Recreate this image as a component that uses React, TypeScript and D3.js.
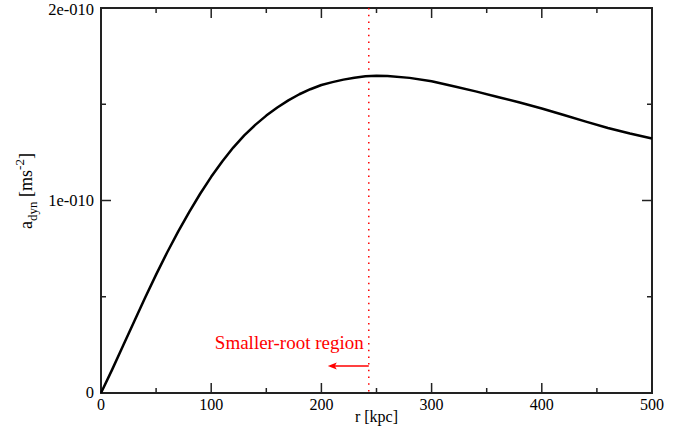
import React, { useRef, useEffect } from 'react';
import * as d3 from 'd3';

// radius [kpc] and dynamical acceleration [1e-10 m s^-2]
const radius = [0, 10, 20, 30, 40, 50, 60, 70, 80, 90, 100, 110, 120, 130, 140, 150, 160, 170, 180, 190, 200, 210, 220, 230, 240, 250, 260, 280, 300, 320, 340, 360, 380, 400, 420, 440, 460, 480, 500];
const accel = [0, 0.12, 0.245, 0.37, 0.495, 0.615, 0.73, 0.838, 0.94, 1.035, 1.123, 1.203, 1.275, 1.338, 1.393, 1.441, 1.483, 1.52, 1.552, 1.578, 1.6, 1.615, 1.628, 1.638, 1.645, 1.648, 1.647, 1.637, 1.619, 1.594, 1.567, 1.538, 1.509, 1.478, 1.444, 1.41, 1.377, 1.348, 1.322];
const rootRadius = 243;
const xMajor = [0, 100, 200, 300, 400, 500];
const xMinor = [50, 150, 250, 350, 450];
const yMajor = [0, 1e-10, 2e-10];
const yMajorLabels = ['0', '1e-010', '2e-010'];
const yMinor = [0.5e-10, 1.5e-10];

const W = 688;
const H = 440;
const font = '"Liberation Serif", "Times New Roman", Times, serif';

const App = () => {
    const svgRef = useRef<SVGSVGElement>(null);

    useEffect(() => {
        const svg = d3.select(svgRef.current);
        svg.selectAll('*').remove();

        const left = 101, right = 652, top = 8, bottom = 393;
        const x = d3.scaleLinear().domain([0, 500]).range([left, right]);
        const y = d3.scaleLinear().domain([0, 2e-10]).range([bottom, top]);

        const data = radius.map((r, i) => ({ r, a: accel[i] * 1e-10 }));

        // frame
        svg.append('rect')
            .attr('x', left).attr('y', top)
            .attr('width', right - left).attr('height', bottom - top)
            .attr('fill', 'none').attr('stroke', '#222').attr('stroke-width', 2);

        const tickG = svg.append('g').attr('stroke', '#222').attr('stroke-width', 1.5);
        const xTicks = (vals: number[], len: number) => {
            vals.forEach(v => {
                tickG.append('line').attr('x1', x(v)).attr('x2', x(v)).attr('y1', bottom).attr('y2', bottom - len);
                tickG.append('line').attr('x1', x(v)).attr('x2', x(v)).attr('y1', top).attr('y2', top + len);
            });
        };
        const yTicks = (vals: number[], len: number) => {
            vals.forEach(v => {
                tickG.append('line').attr('y1', y(v)).attr('y2', y(v)).attr('x1', left).attr('x2', left + len);
                tickG.append('line').attr('y1', y(v)).attr('y2', y(v)).attr('x1', right).attr('x2', right - len);
            });
        };
        xTicks(xMajor, 10);
        xTicks(xMinor, 5);
        yTicks(yMajor, 10);
        yTicks(yMinor, 5);

        // tick labels
        svg.append('g').selectAll('text')
            .data(xMajor)
            .join('text')
            .attr('x', d => x(d))
            .attr('y', bottom + 17)
            .attr('text-anchor', 'middle')
            .style('font-family', font)
            .style('font-size', '16px')
            .text(d => d);

        svg.append('g').selectAll('text')
            .data(yMajor)
            .join('text')
            .attr('x', left - 7)
            .attr('y', d => Math.max(y(d) + 5, 15))
            .attr('text-anchor', 'end')
            .style('font-family', font)
            .style('font-size', '16.5px')
            .text((d, i) => yMajorLabels[i]);

        // axis titles
        svg.append('text')
            .attr('x', x(250))
            .attr('y', 422)
            .attr('text-anchor', 'middle')
            .style('font-family', font)
            .style('font-size', '16px')
            .text('r [kpc]');

        const yt = svg.append('text')
            .attr('transform', `translate(32, 191) rotate(-90)`)
            .attr('text-anchor', 'middle')
            .style('font-family', font)
            .style('font-size', '18px');
        yt.append('tspan').text('a');
        yt.append('tspan').attr('dy', 5).style('font-size', '13px').text('dyn');
        yt.append('tspan').attr('dy', -5).text(' [ms');
        yt.append('tspan').attr('dy', -8).style('font-size', '13px').text('-2');
        yt.append('tspan').attr('dy', 8).text(']');

        // vertical dotted marker
        svg.append('line')
            .attr('x1', x(rootRadius)).attr('x2', x(rootRadius))
            .attr('y1', top).attr('y2', bottom)
            .attr('stroke', 'red')
            .attr('stroke-width', 1.5)
            .attr('stroke-dasharray', '1.5,5.2');

        // curve
        const line = d3.line<{ r: number; a: number }>()
            .x(d => x(d.r))
            .y(d => y(d.a))
            .curve(d3.curveLinear);

        svg.append('path')
            .attr('d', line(data))
            .attr('fill', 'none')
            .attr('stroke', 'black')
            .attr('stroke-width', 2.5)
            .attr('stroke-linejoin', 'round');

        // annotation
        svg.append('text')
            .attr('x', x(rootRadius) - 5)
            .attr('y', 349)
            .attr('text-anchor', 'end')
            .attr('fill', 'red')
            .style('font-family', font)
            .style('font-size', '19px')
            .text('Smaller-root region');

        const ay = 366;
        const ax0 = x(rootRadius);
        const ax1 = ax0 - 41;
        svg.append('line')
            .attr('x1', ax0).attr('x2', ax1 + 4)
            .attr('y1', ay).attr('y2', ay)
            .attr('stroke', 'red').attr('stroke-width', 1.5);
        svg.append('path')
            .attr('d', `M${ax1},${ay} L${ax1 + 9},${ay - 3.5} L${ax1 + 7},${ay} L${ax1 + 9},${ay + 3.5} Z`)
            .attr('fill', 'red');
    }, []);

    return (
        <div style={{ position: 'absolute', left: 0, top: 0 }}>
            <svg ref={svgRef} width={W} height={H} style={{ display: 'block', background: 'white' }} />
        </div>
    );
};

export default App;
